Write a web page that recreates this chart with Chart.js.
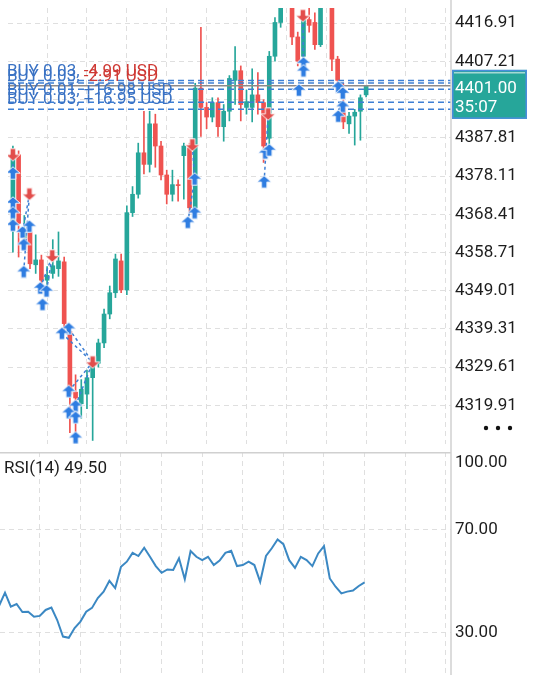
<!DOCTYPE html>
<html>
<head>
<meta charset="utf-8">
<script src="https://cdn.jsdelivr.net/npm/chart.js@4.4.1/dist/chart.umd.min.js"></script>
<style>
  html, body { margin: 0; padding: 0; background: #fff; }
  #wrap { position: relative; width: 540px; height: 675px; overflow: hidden; }
  #pricePane { position: absolute; left: 0; top: 0; width: 540px; height: 452px; }
  #rsiPane { position: absolute; left: 0; top: 452px; width: 540px; height: 223px; }
</style>
</head>
<body>
<div id="wrap">
  <div id="pricePane"><canvas id="priceChart"></canvas></div>
  <div id="rsiPane"><canvas id="rsiChart"></canvas></div>
</div>
<script>
// ── data (bar index 0 = first visible candle) ──
const opens  = [4365.64, 4383.52, 4362.45, 4363.92, 4355.59, 4356.82, 4351.67, 4353.39, 4354.61, 4356.33,
                4338.69, 4323.25, 4320.31, 4322.76, 4326.93, 4330.60, 4335.75, 4343.09, 4348.49, 4356.57,
                4349.22, 4368.82, 4373.48, 4384.01, 4381.07, 4391.36, 4385.73, 4378.38, 4373.48, 4375.93,
                4383.28, 4385.24, 4370.05, 4400.43, 4395.53, 4393.08, 4396.75, 4390.63, 4394.55, 4402.39,
                4404.84, 4395.53, 4395.53, 4398.71, 4396.75, 4387.69, 4408.51, 4417.09, 4428.11, 4421.99,
                4413.41, 4408.51, 4417.82, 4417.09, 4411.45, 4421.99, 4425.66, 4407.78, 4396.26, 4391.36,
                4393.32, 4394.55, 4398.71];
const closes = [4384.01, 4366.12, 4364.41, 4355.84, 4356.82, 4351.67, 4352.90, 4355.35, 4356.57, 4340.65,
                4322.76, 4321.78, 4323.99, 4326.93, 4330.11, 4335.75, 4343.09, 4348.49, 4357.06, 4349.22,
                4368.82, 4373.48, 4384.01, 4381.07, 4391.36, 4385.73, 4378.38, 4373.48, 4375.93, 4375.68,
                4385.73, 4370.05, 4400.43, 4395.53, 4393.08, 4396.75, 4390.63, 4394.55, 4402.88, 4404.84,
                4396.26, 4397.00, 4398.71, 4396.75, 4385.73, 4408.51, 4417.09, 4423.21, 4421.99, 4413.41,
                4407.29, 4417.82, 4416.35, 4411.45, 4421.99, 4425.66, 4407.78, 4402.39, 4391.85, 4393.32,
                4394.30, 4397.98, 4401.00];
const highs  = [4385.73, 4384.50, 4368.09, 4365.39, 4363.19, 4358.04, 4355.10, 4361.96, 4363.92, 4357.55,
                4339.91, 4327.66, 4326.44, 4328.89, 4332.07, 4336.72, 4344.32, 4350.20, 4358.29, 4358.29,
                4370.54, 4375.44, 4386.46, 4394.55, 4394.55, 4393.81, 4386.95, 4379.60, 4379.60, 4377.15,
                4386.46, 4386.46, 4401.65, 4415.86, 4396.75, 4397.98, 4397.98, 4396.26, 4403.61, 4410.96,
                4406.06, 4399.94, 4405.33, 4404.35, 4397.49, 4409.74, 4418.31, 4425.66, 4429.34, 4424.44,
                4414.64, 4419.54, 4420.76, 4419.54, 4424.44, 4428.11, 4426.89, 4408.51, 4401.65, 4394.30,
                4395.04, 4398.71, 4401.16];
const lows   = [4358.78, 4357.55, 4360.00, 4354.61, 4353.39, 4350.45, 4349.22, 4352.16, 4352.65, 4338.69,
                4312.96, 4312.96, 4316.64, 4319.09, 4311.00, 4329.62, 4334.52, 4341.87, 4347.26, 4348.49,
                4348.00, 4367.84, 4372.50, 4378.62, 4379.11, 4380.34, 4377.15, 4371.03, 4371.76, 4371.76,
                4372.25, 4368.82, 4368.82, 4388.18, 4390.14, 4391.85, 4388.18, 4386.95, 4392.10, 4396.26,
                4392.10, 4393.81, 4391.85, 4393.81, 4381.56, 4384.01, 4407.29, 4415.86, 4421.50, 4411.45,
                4406.06, 4407.29, 4414.64, 4410.23, 4410.96, 4421.50, 4404.84, 4401.16, 4390.14, 4388.91,
                4385.97, 4387.20, 4398.22];

// RSI(14), first value belongs to bar -1 (just off the left edge)
const rsiValues = [40.5, 45.5, 40.1, 41.1, 38.0, 38.1, 36.2, 36.5, 38.8, 39.7, 34.9, 28.5, 28.0, 31.8, 34.3,
                   38.1, 39.6, 43.4, 45.9, 50.1, 47.3, 55.5, 57.5, 60.9, 59.7, 62.9, 59.4, 55.8, 53.2, 54.5,
                   54.3, 58.8, 50.7, 61.6, 59.4, 58.1, 59.4, 56.2, 57.9, 60.9, 61.7, 55.8, 56.2, 57.5, 56.2,
                   49.7, 59.7, 62.7, 66.1, 64.3, 58.1, 55.1, 59.4, 58.1, 55.8, 60.7, 63.5, 51.0, 47.8, 45.2,
                   45.9, 46.3, 48.1, 49.5];

const priceTicks = [4319.91, 4329.61, 4339.31, 4349.01, 4358.71, 4368.41, 4378.11, 4387.81, 4397.51, 4407.21, 4416.91];
const rsiTicks   = [30, 70];
const gridBars   = [6, 13, 20, 27, 34, 41, 48, 55, 62, 69, 76];

// trade markers: [bar, price]
const buyMarks = [[0, 4378.87], [0, 4371.27], [0, 4368.82], [0, 4365.64], [1.7, 4363.92], [2.9, 4365.39],
                  [1.9, 4360.74], [1.9, 4353.88], [4.8, 4349.71], [5.9, 4348.98], [5.2, 4345.54],
                  [9.8, 4339.42], [8.6, 4338.20], [9.8, 4323.50], [11, 4319.82], [9.8, 4318.10],
                  [11, 4316.88], [11, 4311.73], [30.7, 4366.37], [31.9, 4368.82], [31.9, 4377.39],
                  [44.3, 4384.01], [45, 4384.74], [44.1, 4376.66], [51, 4406.80], [51, 4404.84],
                  [50.2, 4399.94], [57.1, 4400.67], [57.9, 4399.20], [57.9, 4395.77], [57.1, 4393.32]];
const sellMarks = [[0, 4383.52], [2.9, 4373.48], [6.9, 4357.80], [14, 4330.85], [31.5, 4385.97],
                   [44.8, 4393.81], [50.9, 4418.80]];
// dashed links between entry and exit: [barA, priceA, barB, priceB]
const tradeLinks = [[9.8, 4339.42, 14, 4330.85], [8.6, 4338.20, 14, 4330.85], [11, 4319.82, 14, 4330.85],
                    [9.8, 4323.50, 14, 4330.85], [1.7, 4363.92, 2.9, 4373.48], [1.9, 4353.88, 2.9, 4373.48],
                    [4.8, 4349.71, 6.9, 4357.80], [5.9, 4348.98, 6.9, 4357.80], [0, 4378.87, 0, 4383.52],
                    [30.7, 4366.37, 31.9, 4377.39], [31.9, 4377.39, 31.5, 4385.97],
                    [44.1, 4376.66, 44.8, 4393.81], [51, 4406.80, 50.9, 4418.80], [57.1, 4393.32, 57.9, 4399.20]];

// open positions
const positionPrices = [4402.39, 4401.72, 4400.11, 4396.83, 4395.04];
const positionLots   = ['BUY 0.03,', 'BUY 0.03,', 'BUY 0.01,', 'BUY 0.03,'];
const positionPnl    = ['-4.99 USD', '-2.91 USD', '+16.98 USD', '+16.95 USD'];
const lastPrice = 4401.00;
const barTimer  = '35:07';

const UP = '#26a69a', DOWN = '#ef5350', BLUE = '#3d7fd4', GRID = '#dfdfdf', INK = '#1d1d1d';
const X_MIN = -0.862, X_MAX = 76.9;

Chart.defaults.font.family = 'Roboto';
Chart.defaults.font.size = 17;
Chart.defaults.color = INK;

/* ─────────────────────────────────────────────
 * arrow glyphs for trade markers
 * ───────────────────────────────────────────── */
function makeArrow(up, fill) {
  const c = document.createElement('canvas');
  c.width = 16; c.height = 14;
  const g = c.getContext('2d');
  if (!up) { g.translate(0, 14); g.scale(1, -1); }
  g.beginPath();
  g.moveTo(8, 0.8); g.lineTo(15.2, 7.2); g.lineTo(10.8, 7.2); g.lineTo(10.8, 13.2);
  g.lineTo(5.2, 13.2); g.lineTo(5.2, 7.2); g.lineTo(0.8, 7.2); g.closePath();
  g.fillStyle = fill; g.fill();
  g.strokeStyle = 'rgba(255,255,255,0.9)'; g.lineWidth = 1; g.stroke();
  return c;
}
const upArrow = makeArrow(true, '#2f7de1');
const downArrow = makeArrow(false, '#e24d4b');

function barAxis() {
  return {
    type: 'linear', min: X_MIN, max: X_MAX, offset: false,
    ticks: { display: false },
    grid: { color: GRID, drawTicks: false, offset: false },
    border: { display: false, dash: [5, 4] },
    afterBuildTicks: s => { s.ticks = gridBars.map(v => ({ value: v })); },
    afterFit: s => { s.height = 0; s.paddingLeft = 0; s.paddingRight = 0; }
  };
}

function rightAxis(min, max, ticks) {
  return {
    type: 'linear', position: 'right', min, max, bounds: 'data', beginAtZero: false,
    grid: { color: GRID, drawTicks: false },
    border: { display: false, dash: [5, 4] },
    ticks: { padding: 4, color: INK, callback: v => Number(v).toFixed(2) },
    afterBuildTicks: s => { s.ticks = ticks.map(v => ({ value: v })); },
    afterFit: s => { s.width = 89; s.paddingTop = 0; s.paddingBottom = 0; }
  };
}

/* ─────────────────────────────────────────────
 * PRICE PANE
 * ───────────────────────────────────────────── */
const barIdx = opens.map((_, i) => i);
const candleColors = barIdx.map(i => closes[i] >= opens[i] ? UP : DOWN);

const datasets = [
  { type: 'bar', order: 5, grouped: false, barThickness: 1,
    data: barIdx.map(i => ({ x: i, y: [lows[i], highs[i]] })), backgroundColor: candleColors },
  { type: 'bar', order: 4, grouped: false, barThickness: 4, minBarLength: 1,
    data: barIdx.map(i => ({ x: i, y: [opens[i], closes[i]] })), backgroundColor: candleColors },
  { type: 'line', order: 3, borderColor: '#8e8a8a', borderWidth: 1.5, pointRadius: 0,
    data: [{ x: X_MIN, y: lastPrice }, { x: X_MAX, y: lastPrice }] }
];
positionPrices.forEach(p => datasets.push({
  type: 'line', order: 3, borderColor: BLUE, borderWidth: 1.5, borderDash: [6, 4], pointRadius: 0,
  data: [{ x: X_MIN, y: p }, { x: X_MAX, y: p }]
}));
tradeLinks.forEach(([a, pa, b, pb]) => datasets.push({
  type: 'line', order: 2, borderColor: BLUE, borderWidth: 1.5, borderDash: [3, 3], pointRadius: 0,
  data: [{ x: a, y: pa }, { x: b, y: pb }]
}));
datasets.push({ type: 'line', order: 1, showLine: false, pointStyle: upArrow, pointRadius: 7,
  data: buyMarks.map(([b, p]) => ({ x: b, y: p })) });
datasets.push({ type: 'line', order: 0, showLine: false, pointStyle: downArrow, pointRadius: 7,
  data: sellMarks.map(([b, p]) => ({ x: b, y: p })) });

const labelShift = [-4, -2, 6, 2];

const priceOverlay = {
  id: 'priceOverlay',
  afterDraw(chart) {
    const { ctx, chartArea, scales: { y } } = chart;
    ctx.save();
    ctx.strokeStyle = '#d0d0d0'; ctx.lineWidth = 1.5;
    ctx.beginPath(); ctx.moveTo(chartArea.right, 0); ctx.lineTo(chartArea.right, chart.height); ctx.stroke();

    // position labels
    ctx.font = '17px Roboto';
    ctx.textBaseline = 'alphabetic';
    positionLots.forEach((lot, k) => {
      const by = y.getPixelForValue(positionPrices[k]) + labelShift[k];
      ctx.fillStyle = '#3a72c4';
      ctx.fillText(lot, 7, by);
      const w = ctx.measureText(lot + ' ').width;
      ctx.fillStyle = positionPnl[k].startsWith('-') ? '#cf3a35' : '#3a72c4';
      ctx.fillText(positionPnl[k], 7 + w, by);
    });

    // last price box
    const py = y.getPixelForValue(lastPrice);
    const bx = chartArea.right + 1, bw = 75, top = py - 16, bh = 49;
    ctx.fillStyle = '#26a69a';
    ctx.fillRect(bx, top, bw, bh);
    ctx.strokeStyle = '#4a8ddc'; ctx.lineWidth = 1.5;
    ctx.strokeRect(bx + 0.75, top + 0.75, bw - 1.5, bh - 1.5);
    ctx.strokeStyle = '#e8f4f2'; ctx.lineWidth = 1;
    ctx.beginPath(); ctx.moveTo(bx + 2, top + 3); ctx.lineTo(bx + bw - 2, top + 3); ctx.stroke();
    ctx.fillStyle = '#fff';
    ctx.font = '17px Roboto';
    ctx.fillText(lastPrice.toFixed(2), chartArea.right + 4, py + 7);
    ctx.fillText(barTimer, chartArea.right + 4, py + 26);

    // menu dots
    ctx.fillStyle = '#111';
    [486, 498, 510].forEach(cx => { ctx.beginPath(); ctx.arc(cx, 428, 2.2, 0, Math.PI * 2); ctx.fill(); });
    ctx.restore();
  }
};

new Chart(document.getElementById('priceChart'), {
  type: 'bar',
  data: { datasets },
  options: {
    responsive: true, maintainAspectRatio: false, animation: false,
    layout: { padding: 0 },
    plugins: { legend: { display: false }, tooltip: { enabled: false } },
    scales: { x: barAxis(), y: rightAxis(4310.1, 4420.76, priceTicks) }
  },
  plugins: [priceOverlay]
});

/* ─────────────────────────────────────────────
 * RSI PANE
 * ───────────────────────────────────────────── */
const rsiOverlay = {
  id: 'rsiOverlay',
  afterDraw(chart) {
    const { ctx, chartArea } = chart;
    ctx.save();
    ctx.strokeStyle = '#d0d0d0'; ctx.lineWidth = 1.5;
    ctx.beginPath(); ctx.moveTo(0, 0.75); ctx.lineTo(chartArea.right, 0.75); ctx.stroke();
    ctx.beginPath(); ctx.moveTo(chartArea.right, 0); ctx.lineTo(chartArea.right, chart.height); ctx.stroke();
    ctx.fillStyle = INK;
    ctx.font = '17px Roboto';
    ctx.textBaseline = 'middle';
    ctx.fillText((100).toFixed(2), chartArea.right + 4, 11);
    ctx.textBaseline = 'alphabetic';
    ctx.fillText('RSI(14) ' + rsiValues[rsiValues.length - 1].toFixed(2), 4, 21);
    ctx.restore();
  }
};

new Chart(document.getElementById('rsiChart'), {
  type: 'line',
  data: {
    datasets: [{
      data: rsiValues.map((v, i) => ({ x: i - 1, y: v })),
      borderColor: '#3b88c3', borderWidth: 2, pointRadius: 0, tension: 0
    }]
  },
  options: {
    responsive: true, maintainAspectRatio: false, animation: false,
    layout: { padding: 0 },
    plugins: { legend: { display: false }, tooltip: { enabled: false } },
    scales: { x: barAxis(), y: rightAxis(13.6, 100, rsiTicks) }
  },
  plugins: [rsiOverlay]
});
</script>
</body>
</html>
